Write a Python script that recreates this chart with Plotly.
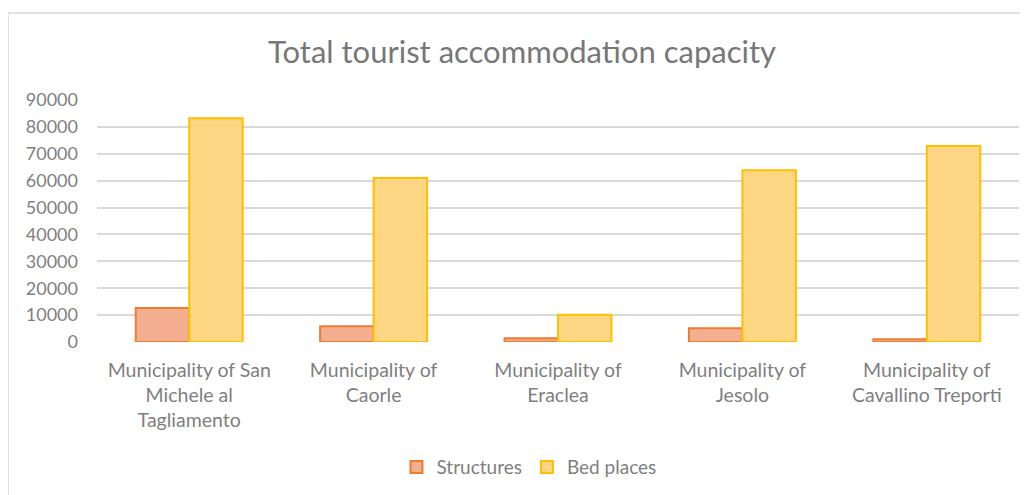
import plotly.graph_objects as go

categories = [
    "Municipality of San<br>Michele al<br>Tagliamento",
    "Municipality of<br>Caorle",
    "Municipality of<br>Eraclea",
    "Municipality of<br>Jesolo",
    "Municipality of<br>Cavallino Treporti",
]
structures = [12600, 5900, 1400, 5100, 1000]
bed_places = [83200, 61000, 10100, 63900, 72900]
y_ticks = [0, 10000, 20000, 30000, 40000, 50000, 60000, 70000, 80000, 90000]
y_tick_labels = ["0", "10000", "20000", "30000", "40000", "50000", "60000", "70000", "80000", "90000"]

FONT = "Lato"
TXT = "#7f7f7f"

fig = go.Figure()
fig.add_trace(go.Bar(
    name="Structures", x=categories, y=structures,
    marker=dict(color="#F4AE90", line=dict(color="#ED7D31", width=2)),
))
fig.add_trace(go.Bar(
    name="Bed places", x=categories, y=bed_places,
    marker=dict(color="#FED684", line=dict(color="#FFC000", width=2)),
))

fig.update_layout(
    width=1028, height=495,
    margin=dict(l=89, r=17, t=92, b=161, autoexpand=False),
    paper_bgcolor="white", plot_bgcolor="white",
    barmode="group", bargap=0.42, bargroupgap=0,
    font=dict(family=FONT, color=TXT, size=17),
    title=dict(text="Total tourist accommodation capacity", x=0.5, xanchor="center",
               y=0.911, yanchor="middle",
               font=dict(family=FONT, size=31, color="#777777")),
    showlegend=True,
    legend=dict(orientation="h", x=0.4685, xanchor="center", y=-0.517, yanchor="middle",
                font=dict(size=19, color=TXT), itemwidth=30, traceorder="normal"),
    xaxis=dict(showgrid=False, showline=False, tickfont=dict(size=19.5, color=TXT),
               ticks="", ticklabelstandoff=14, automargin=False),
    yaxis=dict(range=[0, 90000], tickvals=y_ticks, ticktext=y_tick_labels,
               showgrid=True, gridcolor="#D9D9D9",
               gridwidth=1.5, zeroline=False, showline=False, ticks="",
               ticklabelstandoff=18, tickfont=dict(size=18, color=TXT), automargin=False),
    shapes=[dict(type="rect", xref="paper", yref="paper",
                 x0=-0.0965, x1=1.05, y0=-0.7, y1=1.3595,
                 line=dict(color="#D9D9D9", width=1.5), layer="below")],
)

fig.write_html("out.html")
